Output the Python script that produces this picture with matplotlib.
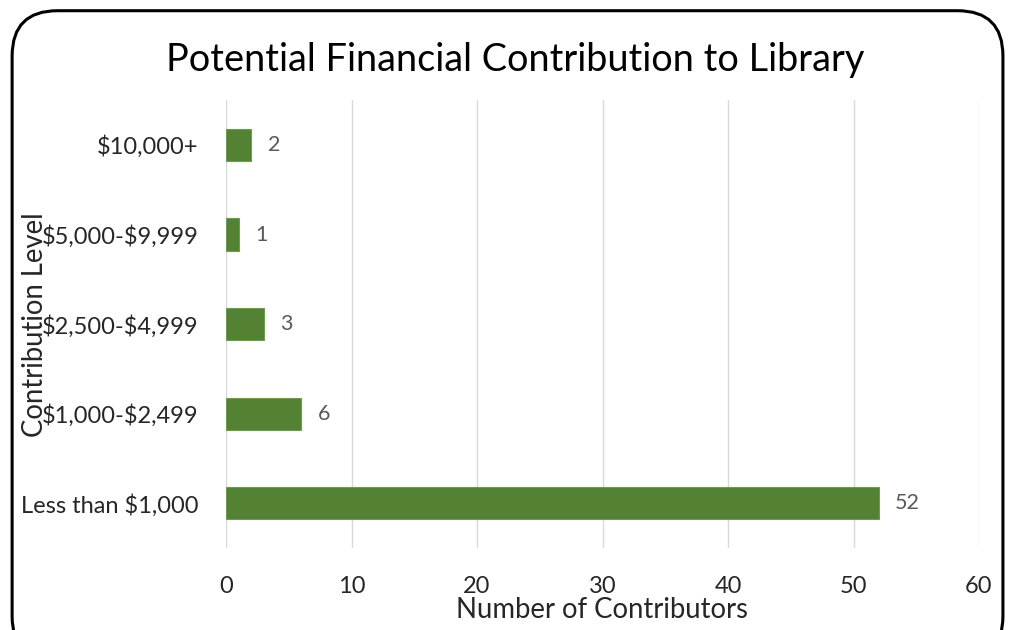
import matplotlib.pyplot as plt
from matplotlib.patches import FancyBboxPatch

levels = ["Less than $1,000", "$1,000-$2,499", "$2,500-$4,999", "$5,000-$9,999", "$10,000+"]
counts = [52, 6, 3, 1, 2]
x_ticks = [0, 10, 20, 30, 40, 50, 60]

plt.rcParams["font.family"] = ["Lato", "DejaVu Sans"]
plt.rcParams["text.parse_math"] = False

fig = plt.figure(figsize=(10.1, 6.3), dpi=100)
ax = fig.add_axes([0.2238, 0.130, 0.7455, 0.711])

# rounded chart frame
frame = FancyBboxPatch(
    (0.012, -0.05), 0.981, 1.033,
    boxstyle="round,pad=0,rounding_size=0.045",
    transform=fig.transFigure, fill=False, edgecolor="black", linewidth=2.2,
    mutation_aspect=1.6,
)
fig.patches.append(frame)

ax.barh(range(len(levels)), counts, height=0.36, color="#548235",
        edgecolor="#6f9a52", linewidth=0.8, zorder=3)
for i, v in enumerate(counts):
    ax.annotate(str(v), (v, i), xytext=(12, 0), textcoords="offset points",
                va="center", ha="left", fontsize=15.5, color="#595959")

ax.set_xlim(0, 60)
ax.set_ylim(-0.5, len(levels) - 0.5)
ax.set_xticks(x_ticks)
ax.set_yticks(range(len(levels)))
ax.set_yticklabels(levels)
ax.tick_params(axis="both", length=0, labelsize=17, colors="#262626")
ax.tick_params(axis="x", pad=20)
ax.tick_params(axis="y", pad=20)
ax.grid(axis="x", color="#d9d9d9", linewidth=1, zorder=0)
for s in ax.spines.values():
    s.set_visible(False)

fig.text(0.51, 0.905, "Potential Financial Contribution to Library",
         ha="center", va="center", fontsize=27.3, color="black")
fig.text(0.596, 0.032, "Number of Contributors", ha="center", va="center",
         fontsize=19.8, color="#262626")
fig.text(0.035, 0.484, "Contribution Level", ha="center", va="center",
         rotation=90, fontsize=19.8, color="#262626")

fig.savefig("out.png", dpi=100)
